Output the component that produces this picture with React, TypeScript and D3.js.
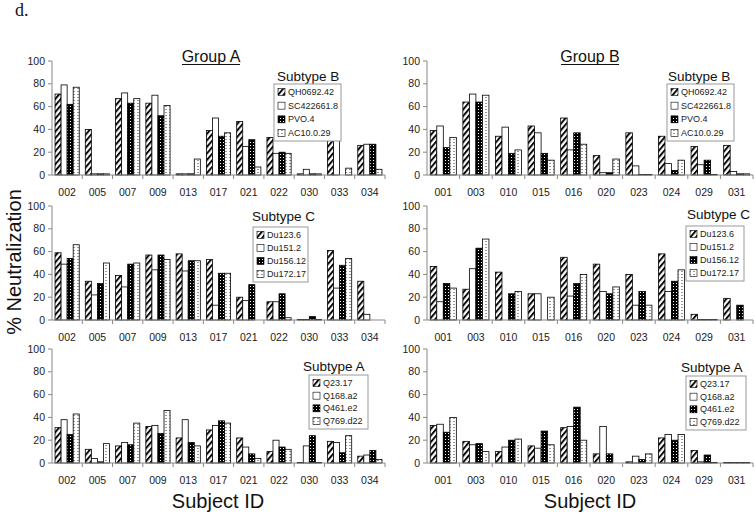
import React from "react";
import * as d3 from "d3";

// ---------- DATA ----------
const catsA = ["002", "005", "007", "009", "013", "017", "021", "022", "030", "033", "034"];
const catsB = ["001", "003", "010", "015", "016", "020", "023", "024", "029", "031"];

const subtypeBNames = ["QH0692.42", "SC422661.8", "PVO.4", "AC10.0.29"];
const subtypeCNames = ["Du123.6", "Du151.2", "Du156.12", "Du172.17"];
const subtypeANames = ["Q23.17", "Q168.a2", "Q461.e2", "Q769.d22"];

// Group A, subtype B
const gA_QH0692 = [71, 40, 67, 63, 1, 39, 47, 33, 1, 32, 26];
const gA_SC422661 = [79, 1, 72, 70, 1, 50, 25, 19, 5, 34, 27];
const gA_PVO4 = [62, 1, 63, 52, 1, 34, 31, 20, 1, 0, 27];
const gA_AC10 = [77, 1, 67, 61, 14, 37, 7, 19, 1, 6, 5];
// Group B, subtype B
const gB_QH0692 = [39, 64, 34, 43, 50, 17, 37, 34, 25, 26];
const gB_SC422661 = [43, 71, 42, 37, 22, 2, 8, 10, 9, 3];
const gB_PVO4 = [24, 64, 19, 19, 37, 2, 0.5, 4, 13, 1];
const gB_AC10 = [33, 70, 22, 13, 27, 14, 0.5, 13, 0.5, 1];
// Group A, subtype C
const gA_Du123 = [59, 34, 39, 57, 58, 53, 20, 16, 0.5, 61, 34];
const gA_Du151 = [49, 22, 29, 44, 43, 13, 17, 16, 0.5, 28, 5];
const gA_Du156 = [54, 32, 49, 57, 52, 41, 31, 23, 3, 48, 0];
const gA_Du172 = [66, 50, 50, 53, 52, 41, 0, 2, 0.5, 54, 0];
// Group B, subtype C
const gB_Du123 = [47, 27, 42, 23, 55, 49, 40, 58, 5, 19];
const gB_Du151 = [16, 45, 0, 23, 21, 25, 13, 25, 0.5, 0];
const gB_Du156 = [32, 63, 23, 0, 32, 23, 25, 34, 0.5, 13];
const gB_Du172 = [28, 71, 25, 20, 40, 29, 13, 44, 0.5, 0];
// Group A, subtype A
const gA_Q23 = [31, 12, 15, 32, 22, 29, 22, 10, 0.5, 19, 6];
const gA_Q168 = [38, 4, 18, 33, 38, 33, 14, 20, 15, 18, 7];
const gA_Q461 = [25, 1, 16, 26, 18, 37, 8, 14, 24, 9, 11];
const gA_Q769 = [43, 17, 35, 46, 15, 35, 4, 12, 0.5, 24, 3];
// Group B, subtype A
const gB_Q23 = [33, 19, 10, 15, 31, 8, 1, 22, 11, 0.5];
const gB_Q168 = [34, 16, 14, 13, 32, 32, 6, 25, 1, 0.5];
const gB_Q461 = [27, 17, 20, 28, 49, 8, 3, 20, 7, 0.5];
const gB_Q769 = [40, 10, 21, 16, 20, 0, 8, 25, 0.5, 0.5];

const yTicks = [0, 20, 40, 60, 80, 100];

// ---------- LAYOUT ----------
const FONT = "'Liberation Sans', Arial, sans-serif";
const fills = ["url(#hatch)", "#ffffff", "url(#blackdots)", "url(#whitedots)"];

const rows = [
  { top: 61, bottom: 175 },
  { top: 206, bottom: 320 },
  { top: 349, bottom: 463 },
];
const cols = [
  { x0: 52, x1: 385, cats: catsA },
  { x0: 427, x1: 753, cats: catsB },
];

const panels = [
  { row: 0, col: 0, names: subtypeBNames, title: "Subtype B", series: [gA_QH0692, gA_SC422661, gA_PVO4, gA_AC10],
    leg: { tx: 277, ty: 81, bx: 274, by: 84, bw: 67, bh: 57 } },
  { row: 0, col: 1, names: subtypeBNames, title: "Subtype B", series: [gB_QH0692, gB_SC422661, gB_PVO4, gB_AC10],
    leg: { tx: 668, ty: 81, bx: 667, by: 84, bw: 67, bh: 57 } },
  { row: 1, col: 0, names: subtypeCNames, title: "Subtype C", series: [gA_Du123, gA_Du151, gA_Du156, gA_Du172],
    leg: { tx: 252, ty: 221, bx: 253, by: 227, bw: 55, bh: 55 } },
  { row: 1, col: 1, names: subtypeCNames, title: "Subtype C", series: [gB_Du123, gB_Du151, gB_Du156, gB_Du172],
    leg: { tx: 687, ty: 219, bx: 686, by: 226, bw: 58, bh: 55 } },
  { row: 2, col: 0, names: subtypeANames, title: "Subtype A", series: [gA_Q23, gA_Q168, gA_Q461, gA_Q769],
    leg: { tx: 303, ty: 371, bx: 309, by: 375, bw: 59, bh: 54 } },
  { row: 2, col: 1, names: subtypeANames, title: "Subtype A", series: [gB_Q23, gB_Q168, gB_Q461, gB_Q769],
    leg: { tx: 681, ty: 372, bx: 686, by: 376, bw: 60, bh: 54 } },
];

function Panel({ p }: { p: any }) {
  const r = rows[p.row];
  const c = cols[p.col];
  const x0 = d3.scaleBand<string>().domain(c.cats).range([c.x0, c.x1]).padding(0);
  const step = x0.step();
  const x1 = d3
    .scaleBand<number>()
    .domain([0, 1, 2, 3])
    .range([step * 0.1, step * 0.9])
    .padding(0);
  const y = d3.scaleLinear().domain([0, 100]).range([r.bottom, r.top]);
  const L = p.leg;
  const rowStep = (L.bh - 16) / 3;
  return (
    <g>
      {p.series.map((vals: number[], si: number) =>
        vals.map((v, ci) =>
          v > 0 ? (
            <rect
              key={`${si}-${ci}`}
              x={(x0(c.cats[ci]) as number) + (x1(si) as number)}
              y={y(v)}
              width={x1.bandwidth()}
              height={r.bottom - y(v)}
              fill={fills[si]}
              stroke="#000"
              strokeWidth={0.8}
            />
          ) : null
        )
      )}
      <line x1={c.x0} x2={c.x0} y1={r.top} y2={r.bottom} stroke="#888" strokeWidth={1} />
      {yTicks.map((t) => (
        <g key={t}>
          <line x1={c.x0 - 4} x2={c.x0} y1={y(t)} y2={y(t)} stroke="#888" />
          <text x={c.x0 - 7} y={y(t)} dy="0.35em" textAnchor="end" fontSize={10.5} fill="#222" fontFamily={FONT}>
            {t}
          </text>
        </g>
      ))}
      <line x1={c.x0} x2={c.x1} y1={r.bottom} y2={r.bottom} stroke="#888" strokeWidth={1} />
      {c.cats.map((cat: string) => (
        <g key={cat}>
          <line
            x1={(x0(cat) as number) + step}
            x2={(x0(cat) as number) + step}
            y1={r.bottom}
            y2={r.bottom + 4}
            stroke="#888"
          />
          <text
            x={(x0(cat) as number) + step / 2}
            y={r.bottom + 21}
            textAnchor="middle"
            fontSize={10.5}
            fill="#222"
            fontFamily={FONT}
          >
            {cat}
          </text>
        </g>
      ))}
      <text x={L.tx} y={L.ty} fontSize={13.5} fontFamily={FONT} fill="#111">
        {p.title}
      </text>
      <rect x={L.bx} y={L.by} width={L.bw} height={L.bh} fill="#fff" stroke="#999" strokeWidth={1} />
      {p.names.map((n: string, i: number) => {
        const cy = L.by + 8 + i * rowStep;
        return (
          <g key={n}>
            <rect x={L.bx + 4} y={cy - 3.5} width={7} height={7} fill={fills[i]} stroke="#000" strokeWidth={0.6} />
            <text x={L.bx + 14} y={cy} dy="0.35em" fontSize={9} fontFamily={FONT} fill="#222">
              {n}
            </text>
          </g>
        );
      })}
    </g>
  );
}

export default function App() {
  return (
    <div style={{ position: "absolute", left: 0, top: 0 }}>
      <svg width={755} height={514} style={{ display: "block", background: "#fff" }}>
        <defs>
          <pattern id="hatch" patternUnits="userSpaceOnUse" width={4.2} height={4.2} patternTransform="rotate(40)">
            <rect width={4.2} height={4.2} fill="#fff" />
            <line x1={1} y1={0} x2={1} y2={4.2} stroke="#000" strokeWidth={1.9} />
          </pattern>
          <pattern id="blackdots" patternUnits="userSpaceOnUse" width={3} height={3}>
            <rect width={3} height={3} fill="#000" />
            <rect x={1} y={1} width={1} height={1} fill="#fff" />
          </pattern>
          <pattern id="whitedots" patternUnits="userSpaceOnUse" width={4} height={3}>
            <rect width={4} height={3} fill="#fff" />
            <rect x={1.5} y={1} width={1} height={1} fill="#333" />
          </pattern>
        </defs>
        <text x={15} y={16} fontSize={18} fontFamily="'Liberation Serif', serif" fill="#111">
          d.
        </text>
        <text x={211} y={62} fontSize={16} textAnchor="middle" fontFamily={FONT} fill="#111">
          Group A
        </text>
        <line x1={182} x2={240} y1={64.5} y2={64.5} stroke="#111" strokeWidth={1} />
        <text x={590} y={62} fontSize={16} textAnchor="middle" fontFamily={FONT} fill="#111">
          Group B
        </text>
        <line x1={561} x2={619} y1={64.5} y2={64.5} stroke="#111" strokeWidth={1} />
        <text
          transform="translate(21,262) rotate(-90)"
          textAnchor="middle"
          fontSize={20}
          fontFamily={FONT}
          fill="#111"
        >
          % Neutralization
        </text>
        {panels.map((p, i) => (
          <Panel key={i} p={p} />
        ))}
        <text x={218} y={508} textAnchor="middle" fontSize={20} fontFamily={FONT} fill="#111">
          Subject ID
        </text>
        <text x={590} y={508} textAnchor="middle" fontSize={20} fontFamily={FONT} fill="#111">
          Subject ID
        </text>
      </svg>
    </div>
  );
}
